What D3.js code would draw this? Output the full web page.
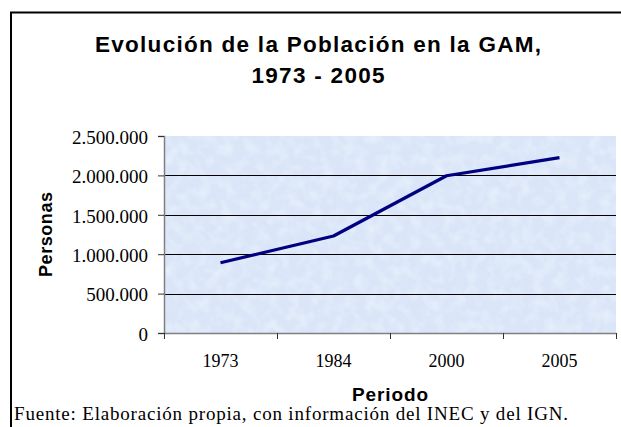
<!DOCTYPE html>
<html>
<head>
<meta charset="utf-8">
<script src="https://cdn.jsdelivr.net/npm/d3@7"></script>
<style>
  body { margin: 0; background: #fff; }
  svg { display: block; }
  .serif { font-family: "Liberation Serif", "Times New Roman", serif; }
  .sans { font-family: "Liberation Sans", Arial, sans-serif; font-weight: bold; }
</style>
</head>
<body>
<div id="container"></div>
<script>
var periodos = ["1973", "1984", "2000", "2005"]
var personas = [892000, 1231000, 1996000, 2225000]
var yTicks = [0, 500000, 1000000, 1500000, 2000000, 2500000]
var titulo = ["Evolución de la Población en la GAM,", "1973 - 2005"]
var fuente = "Fuente: Elaboración propia, con información del INEC y del IGN."

function drawChart() {
  var width = 621
  var height = 427
  var svg = d3.select("#container")
    .append("svg")
    .attr("width", width)
    .attr("height", height)

  // outer frame (right and bottom run off the picture)
  svg.append("path")
    .attr("d", "M11,427 V12.5 H621")
    .attr("fill", "none")
    .attr("stroke", "#000")
    .attr("stroke-width", 2)

  var defs = svg.append("defs")
  var filt = defs.append("filter").attr("id", "tex")
    .attr("x", 0).attr("y", 0).attr("width", 1).attr("height", 1)
  filt.append("feTurbulence")
    .attr("type", "fractalNoise")
    .attr("baseFrequency", 0.09)
    .attr("numOctaves", 2)
    .attr("seed", 3)
  filt.append("feColorMatrix")
    .attr("values", "0 0 0 0 1  0 0 0 0 1  0 0 0 0 1  0 0 0 1.4 -0.6")
  filt.append("feComposite").attr("in2", "SourceGraphic").attr("operator", "in")

  var x = d3.scaleBand()
    .domain(periodos)
    .range([164, 616])

  var y = d3.scaleLinear()
    .domain([0, 2500000])
    .range([333, 136])

  var loc = d3.formatLocale({ decimal: ",", thousands: ".", grouping: [3], currency: ["", ""] })
  var fmt = loc.format(",d")

  // plot background
  svg.append("rect")
    .attr("x", x.range()[0])
    .attr("y", y(2500000))
    .attr("width", x.range()[1] - x.range()[0])
    .attr("height", y(0) - y(2500000))
    .attr("fill", "#dae6f8")
  svg.append("rect")
    .attr("x", x.range()[0])
    .attr("y", y(2500000))
    .attr("width", x.range()[1] - x.range()[0])
    .attr("height", y(0) - y(2500000))
    .attr("fill", "#ffffff")
    .attr("opacity", 0.55)
    .attr("filter", "url(#tex)")

  // gridlines
  svg.append("g")
    .selectAll("line")
    .data(yTicks.filter(function(d) { return d > 0 && d < 2500000 }))
    .enter()
    .append("line")
    .attr("x1", x.range()[0])
    .attr("x2", x.range()[1])
    .attr("y1", function(d) { return Math.round(y(d)) + 0.5 })
    .attr("y2", function(d) { return Math.round(y(d)) + 0.5 })
    .attr("stroke", "#000")
    .attr("stroke-width", 1)

  // y axis
  var yAxis = svg.append("g")
    .attr("transform", "translate(" + x.range()[0] + ",0)")
    .call(d3.axisLeft(y).tickValues(yTicks).tickFormat(fmt).tickSizeOuter(0).tickSize(6).tickPadding(10))
  yAxis.attr("font-family", null).attr("font-size", null)
  yAxis.select(".domain").attr("stroke", "#808080").attr("stroke-width", 1.5)
  yAxis.selectAll(".tick line").attr("stroke", "#333")
  yAxis.selectAll("text")
    .attr("class", "serif")
    .style("font-size", "19px")
    .attr("fill", "#000")
    .attr("dy", "0.38em")

  // x axis
  var xAxis = svg.append("g")
    .attr("transform", "translate(0," + y(0) + ")")
    .call(d3.axisBottom(x).tickSize(0).tickSizeOuter(0).tickPadding(0))
  xAxis.attr("font-family", null).attr("font-size", null)
  xAxis.select(".domain").attr("stroke", "#808080").attr("stroke-width", 1.5)
  xAxis.selectAll("text")
    .attr("class", "serif")
    .style("font-size", "18px")
    .attr("fill", "#000")
    .attr("dy", 0)
    .attr("y", 34)

  // category boundary ticks
  var bounds = periodos.map(function(d) { return x(d) }).concat([x.range()[1]])
  svg.append("g")
    .selectAll("line")
    .data(bounds)
    .enter()
    .append("line")
    .attr("x1", function(d) { return Math.round(d) + 0.5 })
    .attr("x2", function(d) { return Math.round(d) + 0.5 })
    .attr("y1", y(0))
    .attr("y2", y(0) + 6)
    .attr("stroke", "#333")

  // population line
  var line = d3.line()
    .x(function(d, i) { return x(periodos[i]) + x.bandwidth() / 2 })
    .y(function(d) { return y(d) })
  svg.append("path")
    .datum(personas)
    .attr("d", line)
    .attr("fill", "none")
    .attr("stroke", "#000080")
    .attr("stroke-width", 3.2)
    .attr("stroke-linejoin", "round")

  // title
  var tWidths = [446, 133]
  svg.append("g")
    .selectAll("text")
    .data(titulo)
    .enter()
    .append("text")
    .attr("class", "sans")
    .attr("x", 318)
    .attr("y", function(d, i) { return 52 + i * 31 })
    .attr("text-anchor", "middle")
    .style("font-size", "22.5px")
    .attr("textLength", function(d, i) { return tWidths[i] })
    .attr("lengthAdjust", "spacing")
    .text(function(d) { return d })

  // axis titles
  svg.append("text")
    .attr("class", "sans")
    .attr("transform", "translate(52," + (y(0) + y(2500000)) / 2 + ") rotate(-90)")
    .attr("text-anchor", "middle")
    .style("font-size", "18px")
    .attr("textLength", 85)
    .attr("lengthAdjust", "spacing")
    .text("Personas")

  svg.append("text")
    .attr("class", "sans")
    .attr("x", (x.range()[0] + x.range()[1]) / 2)
    .attr("y", 401)
    .attr("text-anchor", "middle")
    .style("font-size", "19px")
    .attr("textLength", 76)
    .attr("lengthAdjust", "spacing")
    .text("Periodo")

  // source note
  svg.append("text")
    .attr("class", "serif")
    .attr("x", 14)
    .attr("y", 420)
    .style("font-size", "19px")
    .attr("textLength", 554)
    .attr("lengthAdjust", "spacing")
    .text(fuente)
}

drawChart()
</script>
</body>
</html>
